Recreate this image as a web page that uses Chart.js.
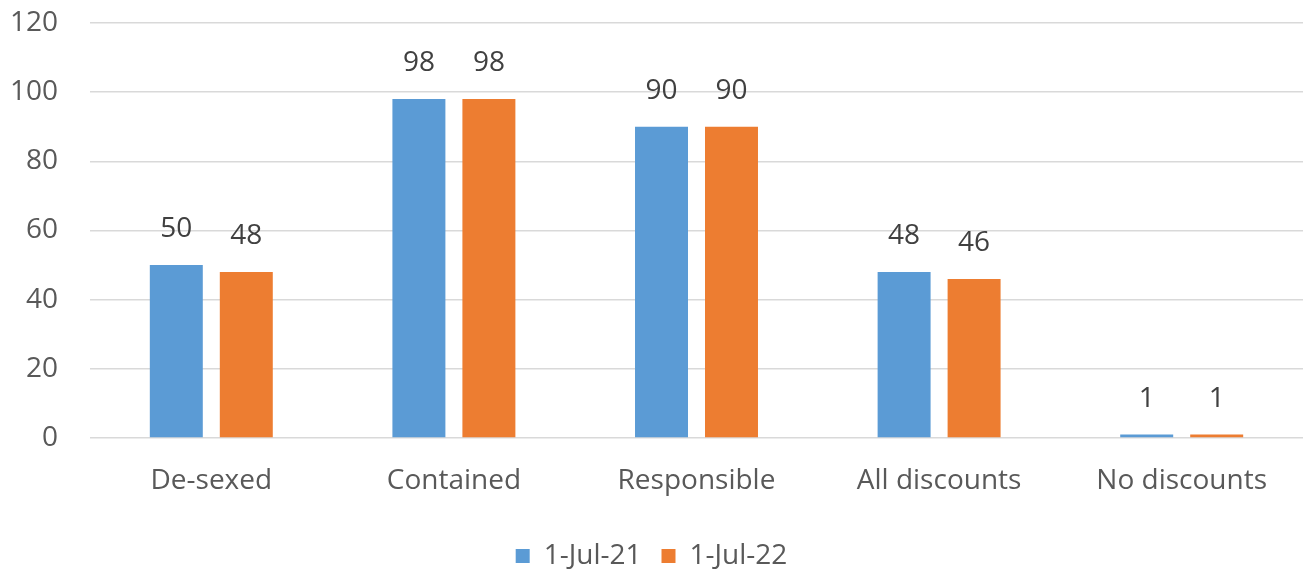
<!DOCTYPE html>
<html>
<head>
<meta charset="utf-8">
<script src="https://cdn.jsdelivr.net/npm/chart.js@4/dist/chart.umd.min.js"></script>
<style>
  html, body { margin: 0; padding: 0; background: #ffffff; }
  #wrap { width: 1306px; height: 572px; position: relative; }
</style>
</head>
<body>
<div id="wrap"><canvas id="c"></canvas></div>
<script>
const categories = ['De-sexed', 'Contained', 'Responsible', 'All discounts', 'No discounts'];
const seriesNames = ['1-Jul-21', '1-Jul-22'];
const values2021 = [50, 98, 90, 48, 1];
const values2022 = [48, 98, 90, 46, 1];
const yTicks = [0, 20, 40, 60, 80, 100, 120];

const FONT = '"Open Sans", sans-serif';
const FONT_SIZE = 28;

// Writes each bar's value above it
const valueLabels = {
  id: 'valueLabels',
  afterDatasetsDraw(chart) {
    const ctx = chart.ctx;
    ctx.save();
    ctx.font = FONT_SIZE + 'px ' + FONT;
    ctx.fillStyle = '#404040';
    ctx.textAlign = 'center';
    ctx.textBaseline = 'middle';
    chart.data.datasets.forEach((ds, i) => {
      chart.getDatasetMeta(i).data.forEach((bar, j) => {
        ctx.fillText(String(ds.data[j]), bar.x, bar.y - 36);
      });
    });
    ctx.restore();
  }
};

new Chart(document.getElementById('c'), {
  type: 'bar',
  data: {
    labels: categories,
    datasets: [
      { label: seriesNames[0], data: values2021, backgroundColor: '#5B9BD5' },
      { label: seriesNames[1], data: values2022, backgroundColor: '#ED7D31' }
    ]
  },
  options: {
    responsive: true,
    maintainAspectRatio: false,
    animation: false,
    layout: { padding: { top: 23, right: 3, left: 0, bottom: -8 } },
    datasets: { bar: { categoryPercentage: 0.577, barPercentage: 0.757 } },
    scales: {
      x: {
        grid: { display: false, drawTicks: false },
        border: { display: false },
        afterFit(scale) { scale.height = 84; scale.paddingLeft = 0; scale.paddingRight = 0; },
        ticks: { color: '#595959', font: { family: FONT, size: FONT_SIZE }, padding: 26 }
      },
      y: {
        min: 0,
        max: 120,
        afterBuildTicks(scale) { scale.ticks = yTicks.map(v => ({ value: v })); },
        afterFit(scale) { scale.width = 90; scale.paddingTop = 0; scale.paddingBottom = 0; },
        grid: { color: '#d9d9d9', lineWidth: 1.5, drawTicks: false },
        border: { display: false },
        ticks: { color: '#595959', font: { family: FONT, size: FONT_SIZE }, padding: 32 }
      }
    },
    plugins: {
      legend: {
        position: 'bottom',
        labels: {
          color: '#595959',
          font: { family: FONT, size: FONT_SIZE },
          boxWidth: 14,
          boxHeight: 14,
          padding: 20
        }
      },
      tooltip: { enabled: false }
    }
  },
  plugins: [valueLabels]
});
</script>
</body>
</html>
